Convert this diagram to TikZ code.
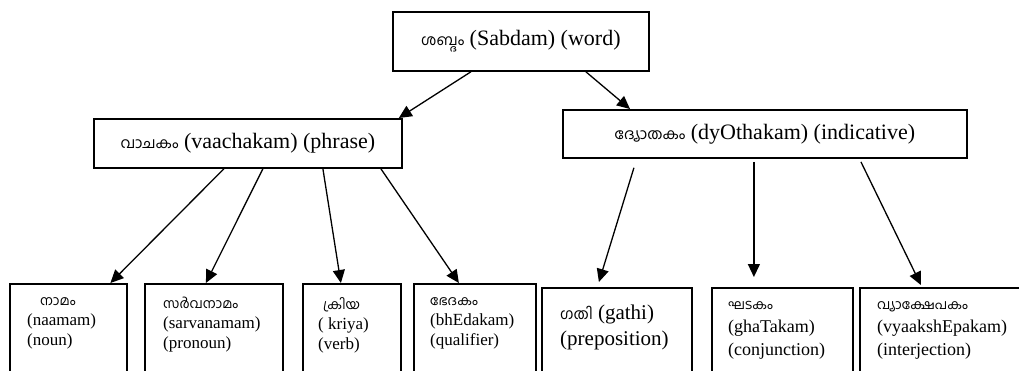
\documentclass[tikz,border=0pt]{standalone}
\usepackage{fontspec}
\setmainfont{Liberation Serif}
\newfontfamily\mlfont[Script=Malayalam]{Hind Kochi}
\usetikzlibrary{arrows.meta,positioning}

\begin{document}
\begin{tikzpicture}[x=1pt, y=-1pt, >={Triangle[length=13pt,width=12pt]},
	box/.style={draw, line width=1.8pt, inner sep=0pt, anchor=north west},
	leaf/.style={box, minimum height=120pt},
	head/.style={font=\fontsize{22}{26}\selectfont},
	leaftext/.style={anchor=north west, align=left, inner sep=0pt, font=\fontsize{17}{20}\selectfont},
	widetext/.style={leaftext, font=\fontsize{18}{23}\selectfont},
	link/.style={->, line width=1.3pt}]
	\def\mlsmall{\mlfont\fontsize{13.5}{14}\selectfont}
	\def\mlbig{\mlfont\fontsize{15}{18}\selectfont}
	\useasboundingbox (0,0) rectangle (1019,370);
	\clip (0,0) rectangle (1019,370);
	\node[box, head, minimum width=256pt, minimum height=59pt] (word) at (392,11) {{\mlbig ശബ്ദം} (Sabdam) (word)};
	\node[box, head, minimum width=308pt, minimum height=49pt] (phrase) at (93,118) {{\mlbig വാചകം} (vaachakam) (phrase)};
	\node[box, head, minimum width=404pt, minimum height=48pt] (indic) at (562,109) {{\mlbig ദ്യോതകം} (dyOthakam) (indicative)};
	\node[leaf, minimum width=117pt] (noun) at (9,283) {};
	\node[leaf, minimum width=138pt] (pronoun) at (144,283) {};
	\node[leaf, minimum width=98pt] (verb) at (302,283) {};
	\node[leaf, minimum width=122pt] (qualif) at (413,283) {};
	\node[leaf, minimum width=150pt] (prepos) at (541,287) {};
	\node[leaf, minimum width=141pt] (conj) at (711,287) {};
	\node[leaf, minimum width=170pt] (interj) at (859,287) {};
	\node[leaftext, below right=14pt and 18pt of noun.north west] (nountext) {\hspace*{13pt}{\mlsmall നാമം}\\(naamam)\\(noun)};
	\node[leaftext, below right=14pt and 19pt of pronoun.north west] (pronountext) {{\mlsmall സർവനാമം}\\(sarvanamam)\\(pronoun)};
	\node[leaftext, below right=14pt and 16pt of verb.north west] (verbtext) {\hspace*{5pt}{\mlsmall ക്രിയ}\\( kriya)\\(verb)};
	\node[leaftext, below right=14pt and 17pt of qualif.north west] (qualiftext) {{\mlsmall ഭേദകം}\\(bhEdakam)\\(qualifier)};
	\node[leaftext, below right=18pt and 19pt of prepos.north west, font=\fontsize{21}{26}\selectfont] (prepostext) {{\mlbig ഗതി} (gathi)\\(preposition)};
	\node[widetext, below right=14pt and 17pt of conj.north west] (conjtext) {{\mlsmall ഘടകം}\\(ghaTakam)\\(conjunction)};
	\node[widetext, below right=14pt and 18pt of interj.north west] (interjtext) {{\mlsmall വ്യാക്ഷേപകം}\\(vyaakshEpakam)\\(interjection)};
	\draw[link] ([xshift=-50pt]word.south) -- ([xshift=-4pt]phrase.north east);
	\draw[link] ([xshift=65pt]word.south) -- ([xshift=68pt]indic.north west);
	\draw[link] ([xshift=-24pt]phrase.south) -- ([xshift=42pt]noun.north);
	\draw[link] ([xshift=15pt]phrase.south) -- ([xshift=-8pt]pronoun.north);
	\draw[link] ([xshift=75pt]phrase.south) -- ([xshift=-11pt]verb.north);
	\draw[link] ([xshift=133pt]phrase.south) -- ([xshift=-16pt]qualif.north);
	\draw[link] ([xshift=-131pt,yshift=-9pt]indic.south) -- ([xshift=-18pt,yshift=5pt]prepos.north);
	\draw[link] ([xshift=-11pt,yshift=-3pt]indic.south) -- ([xshift=-28.5pt,yshift=10pt]conj.north);
	\draw[link] ([xshift=96pt,yshift=-3pt]indic.south) -- ([xshift=-24pt,yshift=2pt]interj.north);
\end{tikzpicture}
\end{document}
